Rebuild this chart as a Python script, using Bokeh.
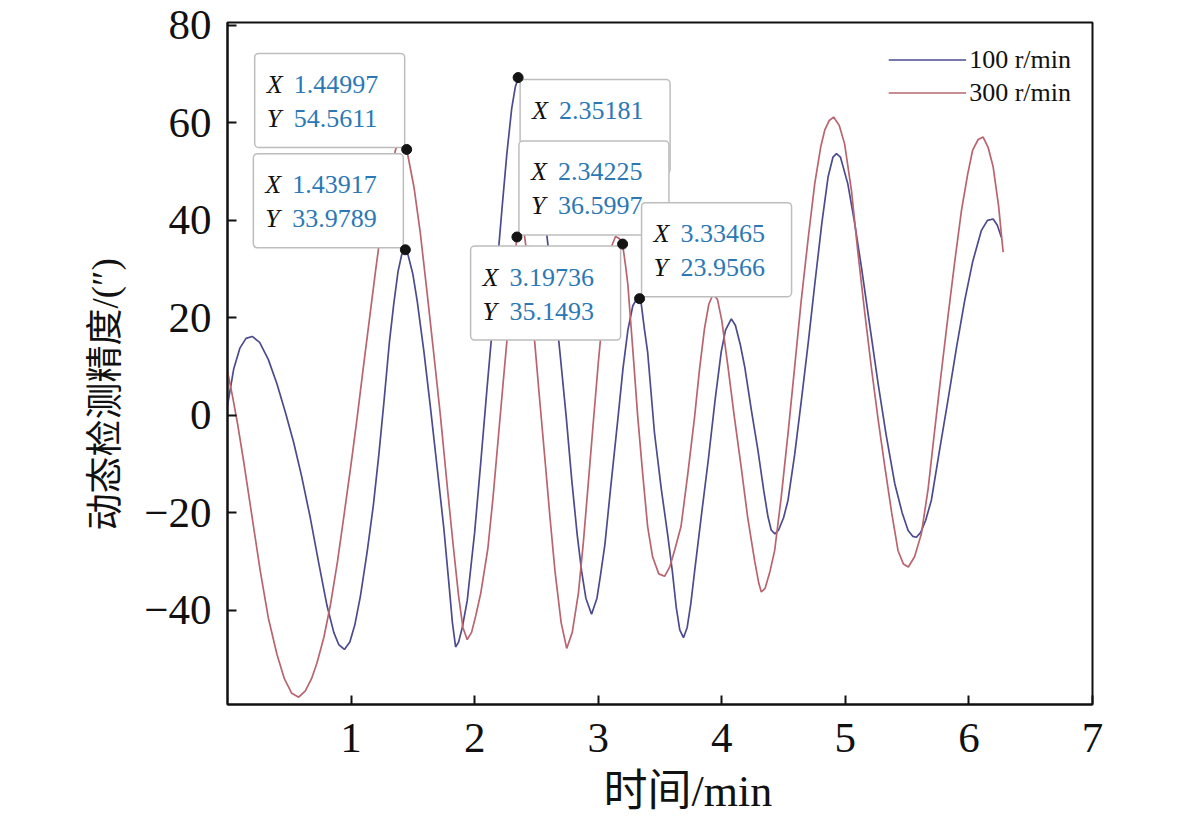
import math
from bokeh.plotting import figure
from bokeh.models import FixedTicker, Legend, LegendItem, Title
from bokeh.core.properties import value
from bokeh.embed import file_html
from bokeh.resources import INLINE

# ---------------- data ----------------
series_names = ["100 r/min", "300 r/min"]

t_100 = [0.00, 0.05, 0.10, 0.15, 0.20, 0.26, 0.33, 0.40, 0.47, 0.535, 0.60, 0.67, 0.74, 0.805,
         0.86, 0.90, 0.946, 0.99, 1.03, 1.076, 1.13, 1.18, 1.225, 1.265, 1.31, 1.346, 1.38, 1.41,
         1.435, 1.46, 1.50, 1.535, 1.59, 1.643, 1.70, 1.75, 1.79, 1.82, 1.846, 1.87, 1.90, 1.94,
         2.00, 2.05, 2.10, 2.14, 2.18, 2.22, 2.26, 2.30, 2.33, 2.355, 2.38, 2.42, 2.47, 2.53,
         2.60, 2.65, 2.69, 2.74, 2.785, 2.83, 2.866, 2.90, 2.946, 2.99, 3.02, 3.054, 3.10, 3.16,
         3.20, 3.24, 3.28, 3.315, 3.345, 3.375, 3.40, 3.455, 3.51, 3.565, 3.60, 3.632, 3.66, 3.69,
         3.72, 3.75, 3.78, 3.835, 3.89, 3.945, 3.995, 4.03, 4.077, 4.11, 4.15, 4.186, 4.24, 4.293,
         4.34, 4.374, 4.40, 4.43, 4.46, 4.50, 4.536, 4.59, 4.643, 4.70, 4.752, 4.81, 4.86, 4.90,
         4.928, 4.96, 5.02, 5.075, 5.13, 5.20, 5.265, 5.33, 5.40, 5.46, 5.508, 5.545, 5.575, 5.61,
         5.65, 5.696, 5.76, 5.83, 5.90, 5.966, 6.03, 6.10, 6.15, 6.196, 6.23, 6.263]
v_100 = [2.0, 9.5, 13.8, 15.8, 16.2, 15.0, 11.5, 6.5, 0.5, -5.5, -12.5, -21.0, -30.5, -39.0,
         -44.5, -47.0, -48.0, -46.5, -43.0, -37.0, -28.0, -18.5, -8.0, 2.5, 15.0, 23.0, 29.5, 33.0,
         34.0, 33.0, 29.0, 23.5, 13.0, 1.5, -11.5, -23.0, -34.0, -42.5, -47.5, -46.5, -43.5, -38.0,
         -24.0, -9.5, 5.5, 17.0, 30.0, 42.0, 53.5, 63.0, 67.5, 69.2, 69.0, 66.0, 59.5, 49.0,
         33.5, 23.0, 13.0, 0.0, -13.0, -24.5, -32.0, -37.5, -40.8, -37.5, -32.5, -26.5, -15.0, -0.5,
         9.5, 17.5, 22.5, 24.0, 23.5, 17.5, 13.0, -3.5, -15.0, -25.0, -32.0, -39.5, -44.0, -45.6,
         -43.5, -38.5, -32.0, -20.5, -9.3, 3.0, 13.0, 17.5, 19.8, 18.5, 14.5, 9.9, 1.0, -7.2,
         -15.5, -20.8, -23.5, -24.3, -23.5, -21.0, -17.4, -8.0, 2.9, 15.0, 26.8, 39.5, 48.9, 53.0,
         53.7, 53.0, 47.5, 39.5, 30.4, 18.0, 6.5, -4.0, -14.0, -20.0, -23.6, -24.8, -25.0, -24.0,
         -21.5, -17.4, -7.5, 3.1, 14.0, 23.6, 31.5, 37.9, 40.0, 40.3, 39.0, 36.5]

t_300 = [0.00, 0.04, 0.08, 0.13, 0.20, 0.265, 0.33, 0.40, 0.46, 0.52, 0.576, 0.63, 0.68, 0.724,
         0.78, 0.832, 0.89, 0.94, 1.00, 1.05, 1.10, 1.157, 1.20, 1.24, 1.28, 1.32, 1.36, 1.40,
         1.45, 1.51, 1.56, 1.616, 1.67, 1.724, 1.78, 1.83, 1.87, 1.905, 1.94, 1.975, 2.01, 2.05,
         2.107, 2.15, 2.19, 2.23, 2.27, 2.31, 2.342, 2.37, 2.40, 2.44, 2.476, 2.52, 2.57, 2.61,
         2.65, 2.70, 2.745, 2.79, 2.84, 2.88, 2.92, 2.96, 3.00, 3.04, 3.08, 3.11, 3.14, 3.17,
         3.197, 3.22, 3.24, 3.28, 3.32, 3.36, 3.40, 3.44, 3.49, 3.537, 3.58, 3.62, 3.67, 3.725,
         3.78, 3.82, 3.86, 3.895, 3.93, 3.965, 4.00, 4.05, 4.10, 4.157, 4.21, 4.265, 4.30, 4.32,
         4.35, 4.39, 4.428, 4.48, 4.536, 4.59, 4.643, 4.70, 4.752, 4.80, 4.833, 4.87, 4.905, 4.95,
         4.994, 5.05, 5.10, 5.155, 5.21, 5.265, 5.32, 5.375, 5.426, 5.47, 5.51, 5.56, 5.615, 5.67,
         5.72, 5.775, 5.83, 5.885, 5.94, 5.99, 6.03, 6.075, 6.115, 6.155, 6.196, 6.24, 6.277]
v_300 = [9.0, 4.0, -1.5, -9.3, -21.0, -31.9, -41.5, -49.0, -54.0, -57.0, -57.8, -56.5, -54.0, -50.8,
         -45.5, -39.0, -30.0, -21.0, -10.0, -0.3, 10.0, 21.4, 30.0, 37.6, 44.5, 50.0, 54.5, 56.5,
         54.6, 46.7, 37.5, 25.0, 12.5, -0.3, -15.0, -27.5, -37.0, -43.5, -46.0, -44.5, -41.0, -36.4,
         -27.3, -16.5, -5.0, 6.5, 17.8, 29.0, 36.6, 38.5, 37.5, 30.0, 18.0, 5.0, -9.3, -21.0,
         -31.9, -42.5, -47.8, -44.5, -36.4, -26.0, -13.8, -1.5, 10.6, 21.5, 30.4, 34.8, 36.7, 36.3,
         35.1, 31.0, 26.8, 13.5, -0.3, -12.0, -22.8, -29.0, -32.5, -33.0, -31.0, -27.5, -22.8, -12.0,
         -0.3, 9.5, 17.8, 22.8, 24.9, 23.8, 19.5, 10.0, 0.0, -10.6, -21.0, -29.7, -34.5, -36.2,
         -35.5, -32.0, -27.7, -17.0, -3.7, 10.0, 23.6, 36.5, 47.5, 55.0, 58.5, 60.5, 61.2, 59.5,
         55.7, 46.0, 33.8, 21.5, 9.9, -0.8, -10.6, -20.0, -27.7, -30.5, -31.1, -29.0, -24.3, -15.0,
         -3.7, 8.5, 20.2, 31.5, 42.1, 49.5, 54.4, 56.6, 57.1, 55.0, 51.0, 43.0, 33.5]

# data tips (cursor readouts)
tip_x = [1.44997, 1.43917, 2.35181, 2.34225, 3.19736, 3.33465]
tip_y = [54.5611, 33.9789, 69.3, 36.5997, 35.1493, 23.9566]
tip_show_y = [True, True, False, True, True, True]
tip_side_x = [-1, -1, 1, 1, -1, 1]   # box left (-1) / right (+1) of the point
tip_side_y = [1, 1, -1, 1, -1, 1]    # box above (+1) / below (-1) the point

x_ticks = [1, 2, 3, 4, 5, 6, 7]
y_ticks = [-40, -20, 0, 20, 40, 60, 80]
x_title = "时间/min"
y_title = "动态检测精度/(″)"

# ---------------- figure ----------------
X_RANGE = (0, 7)
Y_RANGE = (-59.3, 80.6)
FW, FH = 865, 682

SERIF = "Liberation Serif"
MIXED = "'Liberation Serif', 'Noto Sans CJK SC'"

p = figure(frame_width=FW, frame_height=FH, x_range=X_RANGE, y_range=Y_RANGE,
           output_backend="svg", toolbar_location=None,
           min_border_left=227, min_border_right=83, min_border_top=22, min_border_bottom=116)
p.grid.visible = False
p.background_fill_color = "white"
p.border_fill_color = "white"
p.outline_line_color = "#111111"
p.outline_line_width = 2

for ax in (p.xaxis[0], p.yaxis[0]):
    ax.axis_line_width = 2
    ax.axis_line_color = "#111111"
    ax.major_tick_line_width = 2
    ax.major_tick_line_color = "#111111"
    ax.major_tick_in = 9
    ax.major_tick_out = 0
    ax.minor_tick_in = 0
    ax.minor_tick_out = 0
    ax.major_label_text_font = SERIF
    ax.major_label_text_font_size = "43px"
    ax.major_label_text_color = "#111111"

p.xaxis.ticker = FixedTicker(ticks=x_ticks)
p.yaxis.ticker = FixedTicker(ticks=y_ticks)
p.yaxis.major_label_overrides = {t: ("−" + str(-t)) for t in y_ticks if t < 0}
p.xaxis.major_label_standoff = 19
p.yaxis.major_label_standoff = 16

r100 = p.line(t_100, v_100, line_color="#4b4b8e", line_width=1.7)
r300 = p.line(t_300, v_300, line_color="#b9646f", line_width=1.7)

# ---------------- data tips ----------------
sx = (X_RANGE[1] - X_RANGE[0]) / FW
sy = (Y_RANGE[1] - Y_RANGE[0]) / FH
BW, BH, GAP = 150, 94, 2
for i in range(len(tip_x)):
    x0, y0 = tip_x[i], tip_y[i]
    if tip_side_x[i] < 0:
        lp, rp = -GAP - BW, -GAP
    else:
        lp, rp = GAP, GAP + BW
    if tip_side_y[i] > 0:
        bp, tp = GAP, GAP + BH
    else:
        tp, bp = -GAP, -GAP - BH
    p.quad(left=[x0 + lp * sx], right=[x0 + rp * sx], top=[y0 + tp * sy], bottom=[y0 + bp * sy],
           fill_color="white", line_color="#bdbdbd", line_width=1.5, border_radius=4)
    letters = ["X"]
    nums = [str(tip_x[i])]
    if tip_show_y[i]:
        letters.append("Y")
        nums.append(str(tip_y[i]))
    ys = [y0 + (tp - 31) * sy, y0 + (tp - 65) * sy][:len(letters)]
    p.text(x=[x0 + (lp + 12) * sx] * len(letters), y=ys, text=letters,
           text_font=value(SERIF), text_font_style="italic", text_font_size="26px",
           text_color="#111111", text_align="left", text_baseline="middle")
    p.text(x=[x0 + (lp + 39) * sx] * len(nums), y=ys, text=nums,
           text_font=value(SERIF), text_font_size="26px",
           text_color="#2b78b5", text_align="left", text_baseline="middle")

p.scatter(tip_x, tip_y, size=10, fill_color="#141414", line_color="#141414")

# ---------------- titles ----------------
p.add_layout(Title(text=x_title, align="left", offset=376, standoff=20,
                   text_font=MIXED, text_font_size="44px", text_font_style="normal",
                   text_color="#111111"), "below")
p.add_layout(Title(text=y_title, align="left", offset=174, standoff=31,
                   text_font=MIXED, text_font_size="37px", text_font_style="normal",
                   text_color="#111111"), "left")

# ---------------- legend ----------------
legend = Legend(items=[LegendItem(label=series_names[0], renderers=[r100]),
                       LegendItem(label=series_names[1], renderers=[r300])],
                location="top_right", border_line_color=None, background_fill_alpha=0,
                label_text_font=SERIF, label_text_font_size="26px", label_text_color="#111111",
                glyph_width=78, glyph_height=33, label_height=33, label_standoff=3,
                padding=0, margin=21, spacing=0)
p.add_layout(legend)

open("out.html", "w").write(file_html(p, INLINE))
